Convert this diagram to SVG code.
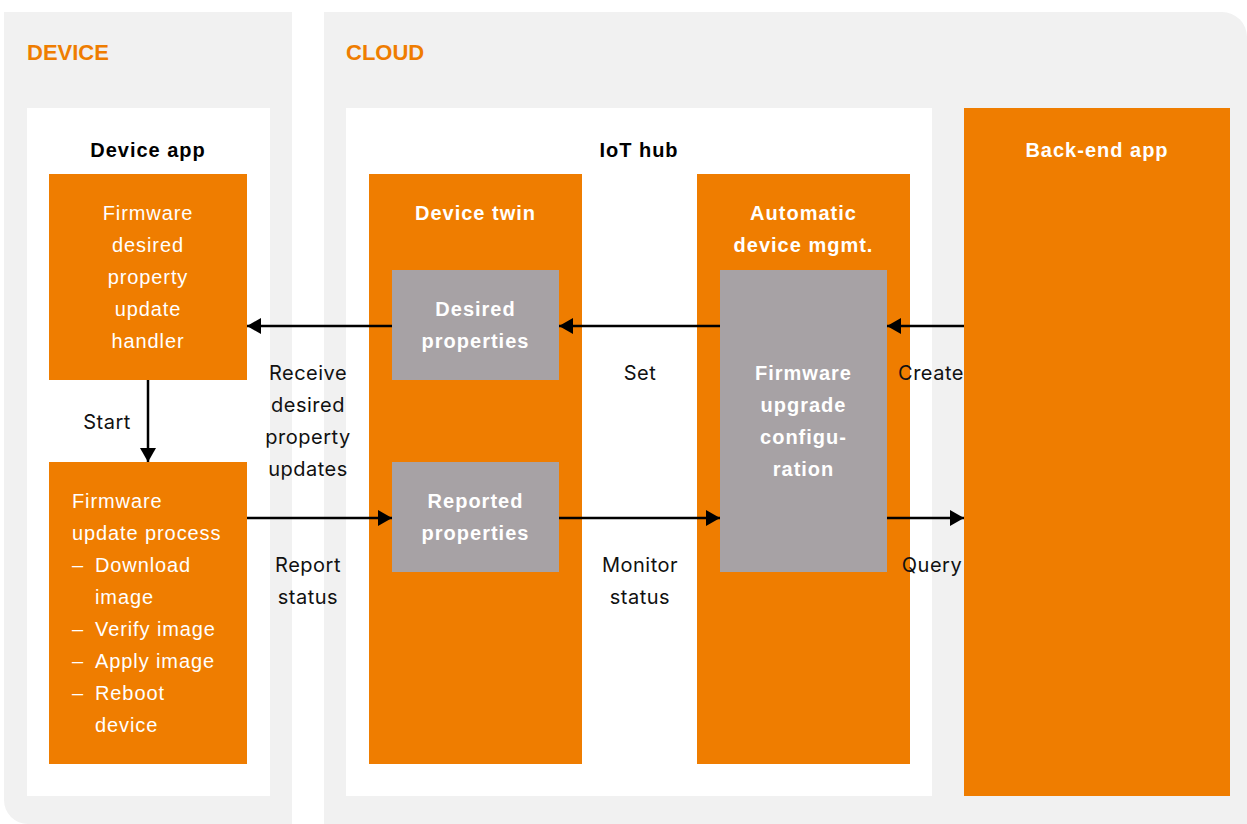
<svg xmlns="http://www.w3.org/2000/svg" width="1247" height="824" viewBox="0 0 1247 824">
<defs>
<style>
.panel{fill:#f1f1f1}
.white{fill:#ffffff}
.orange{fill:#ef7d00}
.grey{fill:#a7a2a5}
.sec{font-family:"Liberation Sans",Arial,sans-serif;font-weight:bold;font-size:22px;fill:#ef7d00}
.title{font-family:"Liberation Sans",Arial,sans-serif;font-weight:bold;font-size:20px;text-anchor:middle;letter-spacing:1px}
.tb{fill:#000}
.tw{fill:#fff}
.body{font-family:"Liberation Sans",Arial,sans-serif;font-size:20px;fill:#fff;letter-spacing:0.9px}
.mid{text-anchor:middle}
.lbl{font-family:Inter,"Liberation Sans",Arial,sans-serif;font-size:20px;fill:#111;text-anchor:middle;letter-spacing:0.5px}
.conn{stroke:#000;stroke-width:2.5;fill:none;marker-end:url(#ah)}
</style>
<marker id="ah" viewBox="0 0 14 16" refX="14" refY="8" markerWidth="14" markerHeight="16" markerUnits="userSpaceOnUse" orient="auto">
<path d="M0,0 L14,8 L0,16 Z" fill="#000"/>
</marker>
</defs>

<g id="device-panel">
<path class="panel" d="M4,12 H292 V824 H28 A24,24 0 0 1 4,800 Z"/>
<text class="sec" x="27" y="60">DEVICE</text>
</g>
<g id="cloud-panel">
<path class="panel" d="M324,12 H1222 A25,25 0 0 1 1247,37 V824 H324 Z"/>
<text class="sec" x="346" y="60">CLOUD</text>
</g>

<g id="device-app">
<rect class="white" x="27" y="108" width="243" height="688"/>
<text class="title tb" x="148" y="157">Device app</text>
</g>

<g id="fw-handler">
<rect class="orange" x="49" y="174" width="198" height="206"/>
<text class="body mid" x="148" y="220">Firmware</text>
<text class="body mid" x="148" y="252">desired</text>
<text class="body mid" x="148" y="284">property</text>
<text class="body mid" x="148" y="316">update</text>
<text class="body mid" x="148" y="348">handler</text>
</g>

<g id="fw-update-process">
<rect class="orange" x="49" y="462" width="198" height="302"/>
<text class="body" x="72" y="508">Firmware</text>
<text class="body" x="72" y="540">update process</text>
<text class="body" x="72" y="572">–</text><text class="body" x="95" y="572">Download</text>
<text class="body" x="95" y="604">image</text>
<text class="body" x="72" y="636">–</text><text class="body" x="95" y="636">Verify image</text>
<text class="body" x="72" y="668">–</text><text class="body" x="95" y="668">Apply image</text>
<text class="body" x="72" y="700">–</text><text class="body" x="95" y="700">Reboot</text>
<text class="body" x="95" y="732">device</text>
</g>

<g id="iot-hub">
<rect class="white" x="346" y="108" width="586" height="688"/>
<text class="title tb" x="639" y="157">IoT hub</text>
</g>

<g id="device-twin">
<rect class="orange" x="369" y="174" width="213" height="590"/>
<text class="title tw" x="475.5" y="220">Device twin</text>
</g>

<g id="desired-properties">
<rect class="grey" x="392" y="270" width="167" height="110"/>
<text class="title tw" x="475.5" y="316">Desired</text>
<text class="title tw" x="475.5" y="348">properties</text>
</g>

<g id="reported-properties">
<rect class="grey" x="392" y="462" width="167" height="110"/>
<text class="title tw" x="475.5" y="508">Reported</text>
<text class="title tw" x="475.5" y="540">properties</text>
</g>

<g id="auto-device-mgmt">
<rect class="orange" x="697" y="174" width="213" height="590"/>
<text class="title tw" x="803.5" y="220">Automatic</text>
<text class="title tw" x="803.5" y="252">device mgmt.</text>
</g>

<g id="fw-upgrade-config">
<rect class="grey" x="720" y="270" width="167" height="302"/>
<text class="title tw" x="803.5" y="380">Firmware</text>
<text class="title tw" x="803.5" y="412">upgrade</text>
<text class="title tw" x="803.5" y="444">configu-</text>
<text class="title tw" x="803.5" y="476">ration</text>
</g>

<g id="back-end-app">
<rect class="orange" x="964" y="108" width="266" height="688"/>
<text class="title tw" x="1097" y="157">Back-end app</text>
</g>

<g id="connectors">
<line class="conn" x1="148" y1="380" x2="148" y2="462"/>
<line class="conn" x1="392" y1="326" x2="247" y2="326"/>
<line class="conn" x1="720" y1="326" x2="559" y2="326"/>
<line class="conn" x1="964" y1="326" x2="887" y2="326"/>
<line class="conn" x1="247" y1="518" x2="392" y2="518"/>
<line class="conn" x1="559" y1="518" x2="720" y2="518"/>
<line class="conn" x1="887" y1="518" x2="964" y2="518"/>
<text class="lbl" x="107" y="429">Start</text>
<text class="lbl" x="308" y="380">Receive</text>
<text class="lbl" x="308" y="412">desired</text>
<text class="lbl" x="308" y="444">property</text>
<text class="lbl" x="308" y="476">updates</text>
<text class="lbl" x="640" y="380">Set</text>
<text class="lbl" x="931" y="380">Create</text>
<text class="lbl" x="308" y="572">Report</text>
<text class="lbl" x="308" y="604">status</text>
<text class="lbl" x="640" y="572">Monitor</text>
<text class="lbl" x="640" y="604">status</text>
<text class="lbl" x="932" y="572">Query</text>
</g>
</svg>
